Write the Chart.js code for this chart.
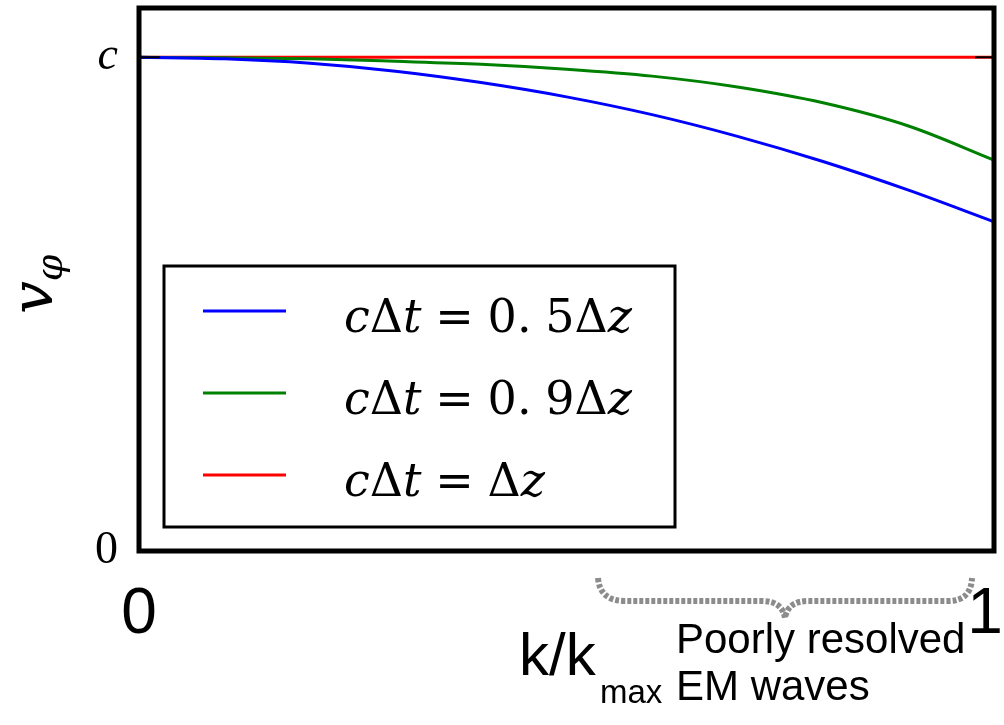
<!DOCTYPE html>
<html>
<head>
<meta charset="utf-8">
<script src="https://cdn.jsdelivr.net/npm/chart.js@4/dist/chart.umd.min.js"></script>
<style>
    html, body { margin: 0; padding: 0; background: #ffffff; }
    #wrap { width: 1004px; height: 725px; }
</style>
</head>
<body>
<div id="wrap"><canvas id="dispersionChart" width="1004" height="725"></canvas></div>
<script>
// k / k_max sample positions
const kValues = [0, 0.1, 0.2, 0.3, 0.4, 0.5, 0.6, 0.7, 0.8, 0.9, 1.0];

// phase velocity (in units of c)
const vHalf = [1, 0.997, 0.988, 0.972, 0.949, 0.920, 0.884, 0.840, 0.789, 0.731, 0.667];
const vNineTenths = [1, 0.999, 0.997, 0.992, 0.986, 0.976, 0.962, 0.940, 0.908, 0.861, 0.792];
const vUnity = [1, 1, 1, 1, 1, 1, 1, 1, 1, 1, 1];

const seriesLabels = ['cΔt=0.5Δz', 'cΔt=0.9Δz', 'cΔt=Δz'];
const seriesColors = ['#0000ff', '#008000', '#ff0000'];

const yTickValues = [0, 1];
const yTickLabels = ['0', 'c'];
const xTickValues = [0, 1];
const xTickLabels = ['0', '1 '];

const SERIF = '"DejaVu Serif", "Liberation Serif", serif';
const SANS = '"Liberation Sans", Arial, sans-serif';

function toPoints(values) {
    return kValues.map((k, i) => ({ x: k, y: values[i] }));
}

// draw a math-ish string: latin letters italic, the rest upright
function drawMath(ctx, str, x, y, size) {
    let cx = x;
    for (const ch of str) {
        const italic = /[a-z]/.test(ch);
        if (ch === '=') cx += size * 0.3;
        ctx.font = (italic ? 'italic ' : '') + size + 'px ' + SERIF;
        ctx.fillText(ch, cx, y);
        cx += ctx.measureText(ch).width;
        if (ch === '=') cx += size * 0.3;
        if (ch === '.') cx += size * 0.3;
    }
}

function noAutoPadding(scale) {
    scale.paddingLeft = 0;
    scale.paddingRight = 0;
    scale.paddingTop = 0;
    scale.paddingBottom = 0;
}

const decorPlugin = {
    id: 'decor',
    afterDraw(chart) {
        const ctx = chart.ctx;
        const area = chart.chartArea;
        const yScale = chart.scales.y;
        ctx.save();

        // inner tick marks at v = c
        const yc = yScale.getPixelForValue(1);
        ctx.strokeStyle = '#000';
        ctx.lineWidth = 2;
        ctx.beginPath();
        ctx.moveTo(area.left, yc);
        ctx.lineTo(area.left + 21, yc);
        ctx.moveTo(area.right - 19, yc);
        ctx.lineTo(area.right, yc);
        ctx.stroke();

        // axes frame
        ctx.lineWidth = 5;
        ctx.strokeRect(area.left, area.top, area.right - area.left, area.bottom - area.top);

        // legend box
        ctx.lineWidth = 3;
        ctx.strokeRect(164, 266, 511, 261);
        ctx.textBaseline = 'alphabetic';
        ctx.fillStyle = '#000';
        chart.data.datasets.forEach((ds, i) => {
            const ly = 311 + i * 82;
            ctx.strokeStyle = ds.borderColor;
            ctx.lineWidth = 3;
            ctx.beginPath();
            ctx.moveTo(203, ly);
            ctx.lineTo(286, ly);
            ctx.stroke();
            drawMath(ctx, ds.label, 344, ly + 21, 46);
        });

        // y axis label v_phi
        ctx.save();
        ctx.translate(52, 314);
        ctx.rotate(-Math.PI / 2);
        ctx.font = 'italic 58px ' + SERIF;
        ctx.fillText('v', 0, 0);
        const vw = ctx.measureText('v').width;
        ctx.font = 'italic 38px ' + SERIF;
        ctx.fillText('φ', vw, 10);
        ctx.restore();

        // x axis label k/k_max
        ctx.font = '60px ' + SANS;
        ctx.fillText('k/k', 519, 675);
        ctx.font = '33px ' + SANS;
        ctx.fillText('max', 600, 703);

        // annotation
        ctx.font = '42px ' + SANS;
        ctx.fillText('Poorly resolved', 676, 653);
        ctx.fillText('EM waves', 676, 700);

        // dotted brace
        ctx.strokeStyle = '#8c8c8c';
        ctx.lineWidth = 6;
        ctx.setLineDash([4, 2]);
        ctx.beginPath();
        ctx.moveTo(598, 578);
        ctx.quadraticCurveTo(600, 601, 625, 601);
        ctx.lineTo(762, 601);
        ctx.quadraticCurveTo(782, 601, 785, 618);
        ctx.quadraticCurveTo(788, 601, 808, 601);
        ctx.lineTo(948, 601);
        ctx.quadraticCurveTo(971, 601, 972, 578);
        ctx.stroke();

        ctx.restore();
    }
};

new Chart(document.getElementById('dispersionChart'), {
    type: 'line',
    data: {
        datasets: [vHalf, vNineTenths, vUnity].map((values, i) => ({
            label: seriesLabels[i],
            data: toPoints(values),
            borderColor: seriesColors[i],
            backgroundColor: seriesColors[i],
            borderWidth: 3,
            pointRadius: 0,
            fill: false,
            cubicInterpolationMode: 'monotone'
        }))
    },
    options: {
        responsive: false,
        animation: false,
        devicePixelRatio: 1,
        layout: {
            padding: { top: 8, right: 10, left: 0, bottom: 0 }
        },
        plugins: {
            legend: { display: false },
            tooltip: { enabled: false }
        },
        scales: {
            x: {
                type: 'linear',
                min: 0,
                max: 1,
                afterBuildTicks: (scale) => {
                    scale.ticks = xTickValues.map(v => ({ value: v }));
                },
                afterFit: (scale) => {
                    scale.height = 174;
                    noAutoPadding(scale);
                },
                grid: { display: false, drawTicks: false },
                border: { display: false },
                ticks: {
                    color: '#000',
                    padding: 26,
                    maxRotation: 0,
                    font: { family: SANS, size: 64 },
                    callback: (value) => xTickLabels[xTickValues.indexOf(value)]
                }
            },
            y: {
                type: 'linear',
                min: 0,
                max: 1.1,
                afterBuildTicks: (scale) => {
                    scale.ticks = yTickValues.map(v => ({ value: v }));
                },
                afterFit: (scale) => {
                    scale.width = 139;
                    noAutoPadding(scale);
                },
                grid: { display: false, drawTicks: false },
                border: { display: false },
                ticks: {
                    color: '#000',
                    padding: 21,
                    font: (c) => ({
                        family: '"Liberation Serif", serif',
                        size: 46,
                        style: c.tick && c.tick.value === 1 ? 'italic' : 'normal'
                    }),
                    callback: (value) => yTickLabels[yTickValues.indexOf(value)]
                }
            }
        }
    },
    plugins: [decorPlugin]
});
</script>
</body>
</html>
